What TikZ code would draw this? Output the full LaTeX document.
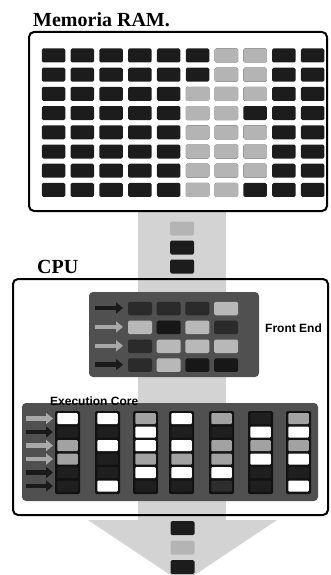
\documentclass[tikz,border=0pt]{standalone}
\usepackage{fontspec}
\setmainfont{Liberation Serif}
\setsansfont{Liberation Sans}
\usetikzlibrary{arrows.meta}
\definecolor{ramD}{HTML}{1C1C1C}
\definecolor{ramL}{HTML}{B4B4B4}
\definecolor{bandgray}{HTML}{D3D3D3}
\definecolor{panelgray}{HTML}{505050}
\definecolor{feD}{HTML}{2B2B2B}
\definecolor{feK}{HTML}{171717}
\definecolor{feL}{HTML}{B8B8B8}
\definecolor{barblack}{HTML}{121212}
\definecolor{exW}{HTML}{FFFFFF}
\definecolor{exG}{HTML}{A2A2A2}
\definecolor{exD}{HTML}{1F1F1F}
\definecolor{exE}{HTML}{2E2E2E}
\definecolor{arD}{HTML}{1A1A1A}
\definecolor{arL}{HTML}{A8A8A8}

\begin{document}
\begin{tikzpicture}[x=1pt,y=-1pt,
  title/.style={font=\bfseries\fontsize{20}{22}\selectfont,anchor=base west,inner sep=0pt},
  tag/.style={font=\sffamily\bfseries\fontsize{12}{14}\selectfont,anchor=base west,inner sep=0pt},
  frame/.style={draw,line width=2pt,rounded corners=5pt},
  panel/.style={fill=panelgray,rounded corners=4pt},
  bit/.style={minimum width=24pt,minimum height=14pt,inner sep=0pt,rounded corners=1.5pt},
  exbit/.style={minimum width=20.5pt,minimum height=11pt,inner sep=0pt,rounded corners=1pt},
  bar/.style={fill=barblack,minimum width=25pt,minimum height=83pt,inner sep=0pt,rounded corners=1.5pt},
  feed/.style={line width=4.5pt,-{Triangle[length=7pt,width=11pt]}}
]
\useasboundingbox (0,0) rectangle (330,575);

% data path through RAM and CPU
\begin{scope}
  \clip (0,0) rectangle (330,575);
  \fill[bandgray] (138,210) rectangle (226,521);
  \fill[bandgray] (88,520) -- (277,520) -- (182.5,583) -- cycle;
\end{scope}
\foreach \c [count=\i] in {ramL,ramD,ramD}
  \node[bit,fill=\c] (in\i) at (182,228.5+19*\i-19) {};
\foreach \c [count=\i] in {ramD,ramL,ramD}
  \node[bit,fill=\c] (out\i) at (182.5,528+19.5*\i-19.5) {};

% RAM
\node[title] (ramtitle) at (33,27) {Memoria RAM.};
\draw[frame] (29,32) rectangle (327,211);
\foreach \r in {1,...,8}
  \foreach \c in {1,...,10}
    \node[bit,fill=ramD,minimum width=23.5pt] (ram-\r-\c) at (53.5+28.8*\c-28.8,55.5+19.2*\r-19.2) {};
\foreach \r/\c in {1/7,1/8,2/7,2/8,3/6,3/7,3/8,4/6,4/7,5/6,5/7,5/8,6/6,6/7,6/8,7/6,7/7,7/8,8/6,8/7}
  \node[bit,fill=ramL,minimum width=23.5pt] at (ram-\r-\c) {};

% CPU
\node[title] (cputitle) at (37,273) {CPU};
\draw[frame] (13,279) rectangle (328,515);

% front end
\fill[panel] (89,292) rectangle (259,377);
\foreach \a [count=\r] in {arD,arL,arL,arD}
  \draw[feed,\a] (95,308+18.9*\r-18.9) -- (123,308+18.9*\r-18.9);
\foreach \row [count=\r] in {{feD,feD,feD,feL},{feL,feK,feL,feD},{feD,feL,feL,feL},{feD,feL,feK,feK}}
  \foreach \c [count=\k] in \row
    \node[bit,fill=\c,minimum height=13.5pt] (fe-\r-\k) at (140+28.7*\k-28.7,308.5+18.9*\r-18.9) {};
\node[tag] (fetag) at (265,332.5) {Front End};

% execution core
\fill[panel] (22,403) rectangle (318,501);
\node[tag] (extag) at (50,405) {Execution Core};
\foreach \a [count=\r] in {arL,arD,arL,arL,arD,arD}
  \draw[feed,\a] (26,418.5+13.5*\r-13.5) -- (53,418.5+13.5*\r-13.5);
\foreach \x/\slots [count=\k] in {67.5/{exW,exD,exG,exG,exD,exD},
                                  107.5/{exW,exD,exW,exD,exD,exW},
                                  145.5/{exG,exW,exW,exG,exW,exD},
                                  181.5/{exW,exD,exW,exG,exW,exD},
                                  221.5/{exG,exD,exG,exG,exW,exE},
                                  260.5/{exD,exW,exG,exW,exD,exD},
                                  298.5/{exG,exW,exG,exW,exD,exW}} {
  \node[bar] (unit\k) at (\x,452.5) {};
  \foreach \c [count=\s] in \slots
    \node[exbit,fill=\c] (unit\k-\s) at (\x,418.5+13.5*\s-13.5) {};
}
\end{tikzpicture}
\end{document}
